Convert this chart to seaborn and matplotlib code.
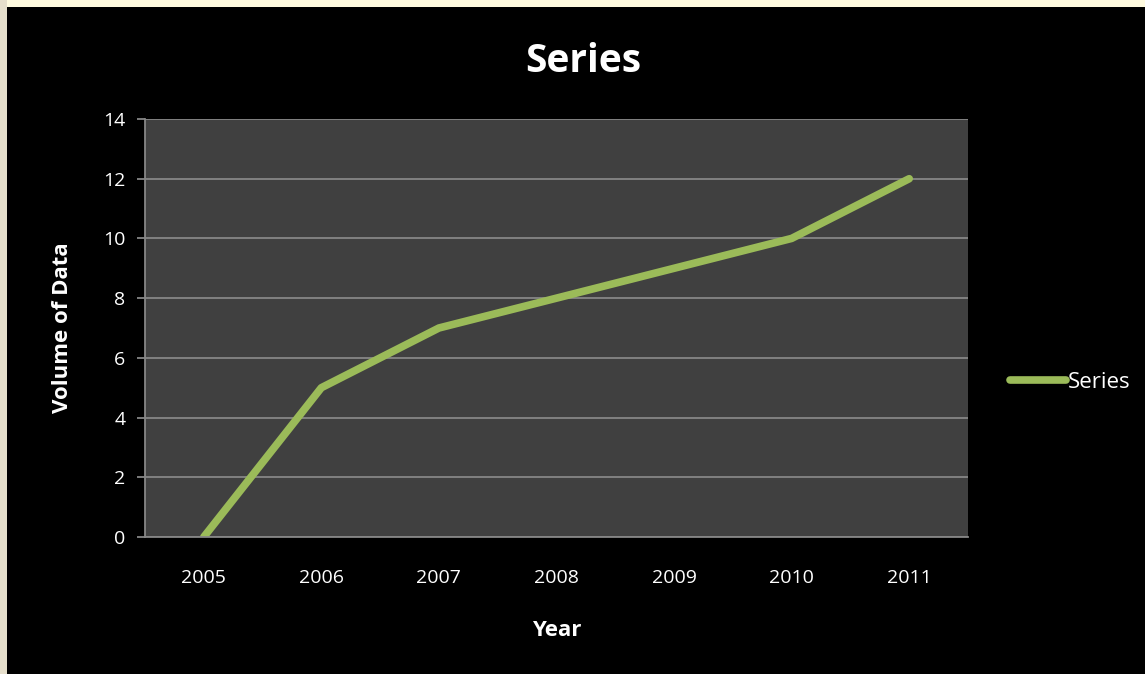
import pandas as pd
import matplotlib.pyplot as plt
import matplotlib.patches as mpatches
import seaborn as sns

# Data
years = [2005, 2006, 2007, 2008, 2009, 2010, 2011]
volume = [0, 5, 7, 8, 9, 10, 12]
y_ticks = [0, 2, 4, 6, 8, 10, 12, 14]

df = pd.DataFrame({"Year": years, "Volume": volume, "Series": "Series"})

sns.set_theme(style="dark")
plt.rcParams['font.family'] = ['Open Sans', 'DejaVu Sans']

fig = plt.figure(figsize=(11.45, 6.74), dpi=100, facecolor="black")

# Decorative slide strips on top and left edges
fig.patches.append(mpatches.Rectangle((0, 1 - 7 / 674), 1, 7 / 674, transform=fig.transFigure,
                                      facecolor="#fffbe0", edgecolor="none", zorder=0))
fig.patches.append(mpatches.Rectangle((0, 0), 7 / 1145, 1, transform=fig.transFigure,
                                      facecolor="#e6dfcc", edgecolor="none", zorder=0))

ax = fig.add_axes([145 / 1145, 1 - 537 / 674, (968 - 145) / 1145, (537 - 119) / 674])
ax.set_facecolor("#404040")

sns.lineplot(data=df, x="Year", y="Volume", hue="Series", palette=["#9bbb59"],
             linewidth=5.5, ax=ax, solid_capstyle="round")

ax.set_xlim(2004.5, 2011.5)
ax.set_ylim(0, 14)
ax.set_xticks(years)
ax.set_yticks(y_ticks)
ax.grid(axis="y", color="#868686", linewidth=1.3)
ax.grid(axis="x", visible=False)
ax.set_axisbelow(True)

for side in ["top", "right"]:
    ax.spines[side].set_visible(False)
for side in ["left", "bottom"]:
    ax.spines[side].set_visible(True)
    ax.spines[side].set_color("#868686")
    ax.spines[side].set_linewidth(1.3)

ax.tick_params(axis="y", colors="white", labelsize=14, length=6, width=1.3,
               color="#868686", left=True, pad=8)
ax.tick_params(axis="x", colors="white", labelsize=14, length=0, pad=23)

ax.set_xlabel("Year", color="white", fontsize=16, fontweight="bold", labelpad=24)
ax.set_ylabel("Volume of Data", color="white", fontsize=16, fontweight="bold", labelpad=22)
fig.text(583 / 1145, 1 - 61 / 674, "Series", color="white", fontsize=28,
         fontweight="bold", ha="center", va="center")

leg = ax.legend(loc="center left", bbox_to_anchor=(1.027, 0.37), frameon=False,
                fontsize=16, handlelength=2.5, handletextpad=0.1)
for line in leg.get_lines():
    line.set_linewidth(5.5)
for text in leg.get_texts():
    text.set_color("white")

fig.savefig("out.png", dpi=100, facecolor=fig.get_facecolor())
plt.close()
